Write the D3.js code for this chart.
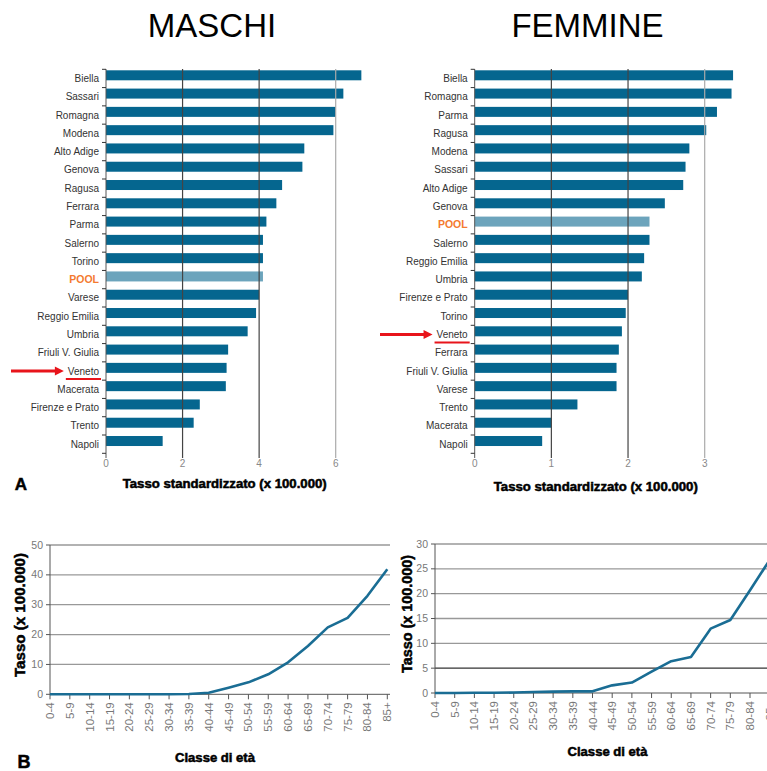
<!DOCTYPE html>
<html><head><meta charset="utf-8">
<script src="https://cdn.jsdelivr.net/npm/d3@7"></script>
<style>
body{margin:0;background:#fff;}
svg{display:block;font-family:"Liberation Sans",Arial,sans-serif;}
</style></head>
<body><svg id="c" width="767" height="771"></svg>
<script>
// ---------- DATA ----------
const maleCats = ["Biella","Sassari","Romagna","Modena","Alto Adige","Genova","Ragusa","Ferrara","Parma","Salerno","Torino","POOL","Varese","Reggio Emilia","Umbria","Friuli V. Giulia","Veneto","Macerata","Firenze e Prato","Trento","Napoli"];
const maleVals = [6.67,6.20,6.00,5.94,5.18,5.13,4.60,4.45,4.19,4.10,4.10,4.10,4.00,3.92,3.70,3.19,3.15,3.13,2.45,2.29,1.48];
const femaleCats = ["Biella","Romagna","Parma","Ragusa","Modena","Sassari","Alto Adige","Genova","POOL","Salerno","Reggio Emilia","Umbria","Firenze e Prato","Torino","Veneto","Ferrara","Friuli V. Giulia","Varese","Trento","Macerata","Napoli"];
const femaleVals = [3.37,3.35,3.16,3.02,2.80,2.75,2.72,2.48,2.28,2.28,2.21,2.18,2.00,1.97,1.92,1.88,1.85,1.85,1.34,1.00,0.88];
const maleBarTicks = [0,2,4,6];
const femaleBarTicks = [0,1,2,3];
const ageClasses = ["0-4","5-9","10-14","15-19","20-24","25-29","30-34","35-39","40-44","45-49","50-54","55-59","60-64","65-69","70-74","75-79","80-84","85+"];
const maleAgeRates = [0,0,0,0,0,0,0,0.1,0.5,2.2,4.0,6.7,10.7,16.2,22.4,25.6,33.0,41.9];
const femaleAgeRates = [0,0,0.05,0.05,0.1,0.2,0.27,0.33,0.33,1.54,2.1,4.3,6.4,7.25,12.95,14.7,20.7,26.8];
const maleAgeTicks = [0,10,20,30,40,50];
const femaleAgeTicks = [0,5,10,15,20,25,30];

const BAR = "#05668f", POOLC = "#6ca4bc", LINE = "#1a6d94";
const svg = d3.select("#c");

function heavyText(g, x, y, txt, size, len, rot){
  const t = g.append("text").attr("x",x).attr("y",y).text(txt)
    .attr("font-size",size).attr("font-weight","bold").attr("text-anchor","middle")
    .attr("fill","#000").attr("stroke","#000").attr("stroke-width",0.5);
  if(len) t.attr("textLength",len).attr("lengthAdjust","spacingAndGlyphs");
  if(rot) t.attr("transform",`rotate(${rot},${x},${y})`);
  return t;
}

function barChart(o){
  const g = svg.append("g");
  const x = d3.scaleLinear().domain(o.domain).range([o.x0,o.x1]);
  const y = d3.scaleBand().domain(o.cats).range([69.3,453.3]).paddingInner(0).paddingOuter(0);
  g.selectAll("rect.bar").data(o.cats).join("rect")
    .attr("x",x(0)).attr("y",d=>y(d)+1).attr("height",10)
    .attr("width",(d,i)=>x(o.vals[i])-x(0))
    .attr("fill",d=>d==="POOL"?POOLC:BAR);
  o.ticks.filter(t=>t>0).forEach((t,i,arr)=>{
    g.append("line").attr("x1",x(t)).attr("x2",x(t)).attr("y1",69).attr("y2",458)
      .attr("stroke", i===arr.length-1?"#aaa":"#444").attr("stroke-width",1.2);
  });
  g.append("line").attr("x1",x(0)).attr("x2",x(0)).attr("y1",69).attr("y2",458).attr("stroke","#555");
  const bounds = o.cats.map(c=>y(c)).concat([y.range()[1]]);
  g.selectAll("line.tk").data(bounds).join("line")
    .attr("x1",x(0)-4).attr("x2",x(0)).attr("y1",d=>d).attr("y2",d=>d).attr("stroke","#333");
  g.selectAll("text.tl").data(o.ticks).join("text")
    .attr("x",d=>x(d)).attr("y",467).attr("text-anchor","middle")
    .attr("font-size",10).attr("fill","#888").text(d=>d);
  const labels = g.selectAll("text.cl").data(o.cats).join("text")
    .attr("x",x(0)-7).attr("y",d=>y(d)+y.bandwidth()/2+3.5).attr("text-anchor","end")
    .attr("font-size",d=>d==="POOL"?10.5:10)
    .attr("font-weight",d=>d==="POOL"?"bold":"normal")
    .attr("fill",d=>d==="POOL"?"#f47a30":"#333").text(d=>d);
  const vy = y("Veneto")+y.bandwidth()/2;
  const vNode = labels.filter(d=>d==="Veneto").node();
  const w = vNode.getComputedTextLength();
  g.append("line").attr("x1",x(0)-9-w).attr("x2",x(0)-5).attr("y1",vy+8).attr("y2",vy+8)
    .attr("stroke","#e8141b").attr("stroke-width",2);
  const ax1 = x(0)-11-w;
  g.append("line").attr("x1",o.arrowStart).attr("x2",ax1-7).attr("y1",vy).attr("y2",vy)
    .attr("stroke","#e8141b").attr("stroke-width",3);
  g.append("path").attr("d",`M${ax1},${vy}L${ax1-9},${vy-4.5}L${ax1-9},${vy+4.5}Z`).attr("fill","#e8141b");
  g.append("text").attr("x",o.titleX).attr("y",37).attr("text-anchor","middle")
    .attr("font-size",33).attr("fill","#000").text(o.title);
  heavyText(g, o.axTitleX, o.axTitleY, "Tasso standardizzato (x 100.000)", 12, 204);
}

barChart({cats:maleCats, vals:maleVals, domain:[0,6], x0:106, x1:335.7, ticks:maleBarTicks,
  title:"MASCHI", titleX:212, axTitleX:224.7, axTitleY:488, arrowStart:11});
barChart({cats:femaleCats, vals:femaleVals, domain:[0,3], x0:474.7, x1:704.7, ticks:femaleBarTicks,
  title:"FEMMINE", titleX:587.5, axTitleX:595.8, axTitleY:490.5, arrowStart:380});

heavyText(svg, 21, 489.5, "A", 17);

function lineChart(o){
  const g = svg.append("g");
  const x = d3.scalePoint().domain(ageClasses).range([o.x0,o.x1]);
  const y = d3.scaleLinear().domain([0,o.max]).range([o.y0,o.y1]);
  o.ticks.filter(t=>t>0).forEach(t=>{
    g.append("line").attr("x1",o.x0).attr("x2",o.gx).attr("y1",y(t)).attr("y2",y(t))
      .attr("stroke", t===o.darkTick?"#333":"#999").attr("stroke-width",1.3);
  });
  g.append("line").attr("x1",o.x0).attr("x2",o.x0).attr("y1",y(o.max)).attr("y2",y(0)).attr("stroke","#555");
  g.append("line").attr("x1",o.x0).attr("x2",o.gx).attr("y1",y(0)).attr("y2",y(0)).attr("stroke","#555");
  g.selectAll("line.yt").data(o.ticks).join("line")
    .attr("x1",o.x0-4).attr("x2",o.x0).attr("y1",d=>y(d)).attr("y2",d=>y(d)).attr("stroke","#555");
  g.selectAll("line.xt").data(ageClasses).join("line")
    .attr("x1",d=>x(d)).attr("x2",d=>x(d)).attr("y1",y(0)).attr("y2",y(0)+5).attr("stroke","#555");
  g.selectAll("text.yl").data(o.ticks).join("text")
    .attr("x",o.x0-7).attr("y",d=>y(d)+3.5).attr("text-anchor","end")
    .attr("font-size",10.5).attr("fill","#777").text(d=>d);
  g.selectAll("text.xl").data(ageClasses).join("text")
    .attr("transform",d=>`translate(${x(d)+4},${y(0)+8}) rotate(-90)`)
    .attr("text-anchor","end").attr("font-size",11.5).attr("fill","#777").text(d=>d);
  const line = d3.line().x((d,i)=>x(ageClasses[i])).y(d=>y(d));
  g.append("path").attr("d",line(o.vals)).attr("fill","none")
    .attr("stroke",LINE).attr("stroke-width",2.6).attr("stroke-linejoin","round");
  heavyText(g, o.ytX, o.ytY, "Tasso (x 100.000)", 14, o.ytLen, -90);
  heavyText(g, o.xtX, o.xtY, "Classe di età", 12, 80);
}

lineChart({vals:maleAgeRates, max:50, ticks:maleAgeTicks, x0:50, x1:387.3, gx:390, y0:694.3, y1:545,
  darkTick:null, ytX:25, ytY:615, ytLen:124, xtX:215, xtY:762});
lineChart({vals:femaleAgeRates, max:30, ticks:femaleAgeTicks, x0:435, x1:769.7, gx:780, y0:693, y1:544,
  darkTick:5, ytX:412, ytY:614, ytLen:118, xtX:607.5, xtY:756});

heavyText(svg, 24, 768, "B", 18);
</script></body></html>
